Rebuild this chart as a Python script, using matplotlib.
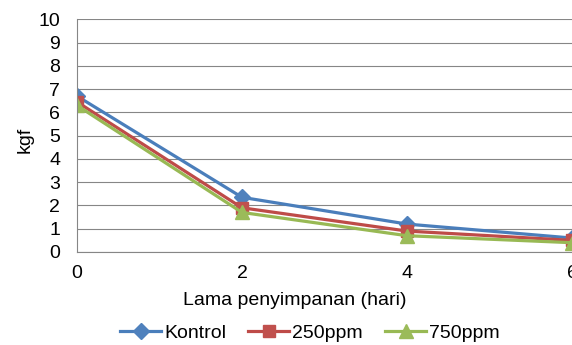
import matplotlib

matplotlib.use("Agg")
import matplotlib.pyplot as plt

plt.rcParams["font.family"] = ["Liberation Sans", "DejaVu Sans"]

hari = [0, 2, 4, 6]
kontrol = [6.7, 2.35, 1.2, 0.6]
ppm250 = [6.45, 1.9, 0.9, 0.5]
ppm750 = [6.3, 1.7, 0.7, 0.4]

fig = plt.figure(figsize=(5.72, 3.45), dpi=100)
ax = fig.add_axes([77 / 572, 93 / 345, 495 / 572, 232.7 / 345])

ax.plot(hari, kontrol, color="#4A7EBB", lw=2.3, marker="D", ms=8,
        mfc="#4F81BD", mec="#4F81BD", label="Kontrol")
ax.plot(hari, ppm250, color="#BE4B48", lw=2.3, marker="s", ms=9,
        mfc="#C0504D", mec="#C0504D", label="250ppm")
ax.plot(hari, ppm750, color="#98B954", lw=2.3, marker="^", ms=10,
        mfc="#9BBB59", mec="#9BBB59", label="750ppm")

ax.set_xlim(0, 6)
ax.set_ylim(0, 10)
ax.set_xticks(hari)
ax.set_yticks(range(0, 11))
ax.tick_params(length=0, labelsize=14)
ax.tick_params(axis="x", pad=9)
ax.tick_params(axis="y", pad=12)
ax.grid(axis="y", color="#868686", lw=0.8)
ax.set_axisbelow(True)
for s in ["top", "right"]:
    ax.spines[s].set_visible(False)
for s in ["left", "bottom"]:
    ax.spines[s].set_color("#868686")
    ax.spines[s].set_linewidth(0.8)

ax.set_xlabel("Lama penyimpanan (hari)", fontsize=14)
ax.xaxis.set_label_coords(0.44, -0.172)
ax.set_ylabel("kgf", fontsize=14)
ax.yaxis.set_label_coords(-0.088, 0.48)

fig.legend(loc="center", bbox_to_anchor=(310 / 572, 1 - 333 / 345), ncol=3,
           frameon=False, fontsize=14, handlelength=2.1, handletextpad=0.15,
           columnspacing=1.15)

fig.savefig("out.png", dpi=100)
plt.close(fig)
